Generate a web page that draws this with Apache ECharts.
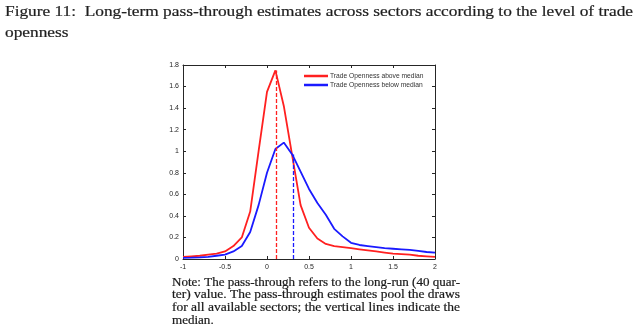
<!DOCTYPE html>
<html><head><meta charset="utf-8">
<script src="https://cdn.jsdelivr.net/npm/echarts@6/dist/echarts.min.js"></script>
<style>html,body{margin:0;padding:0;background:#fff}#c{width:639px;height:332px}</style>
</head><body><div id="c"></div>
<script>
var xValues = [-1.0,-0.9,-0.8,-0.7,-0.6,-0.5,-0.4,-0.3,-0.2,-0.1,0.0,0.1,0.2,0.3,0.4,0.5,0.6,0.7,0.8,0.9,1.0,1.1,1.2,1.3,1.4,1.5,1.6,1.7,1.8,1.9,2.0];
var aboveMedian = [0.02,0.025,0.03,0.04,0.05,0.07,0.12,0.20,0.44,1.00,1.55,1.75,1.42,0.96,0.50,0.29,0.19,0.14,0.12,0.11,0.10,0.09,0.08,0.07,0.06,0.05,0.045,0.04,0.03,0.025,0.02];
var belowMedian = [0.01,0.012,0.015,0.02,0.03,0.04,0.07,0.12,0.25,0.50,0.80,1.02,1.08,0.97,0.81,0.65,0.52,0.41,0.28,0.21,0.15,0.13,0.12,0.11,0.10,0.095,0.09,0.085,0.075,0.065,0.06];
var seriesNames = ['Trade Openness above median','Trade Openness below median'];
var medianX = [0.11, 0.31];
var medianTop = [1.75, 0.97];
var titleLines = ['Figure 11:  Long-term pass-through estimates across sectors according to the level of trade', 'openness'];
var noteLines = ['Note: The pass-through refers to the long-run (40 quar-', 'ter) value. The pass-through estimates pool the draws', 'for all available sectors; the vertical lines indicate the', 'median.'];

function pairs(ys){ return xValues.map(function(x,i){return [x, ys[i]];}); }
var colors = ['#ff2020', '#1a1aff'];
var chart = echarts.init(document.getElementById('c'), null, {renderer:'canvas'});
var serif = 'Liberation Serif';
var ctx = document.createElement('canvas').getContext('2d');
function fitScale(text, font, target){ ctx.font = font; return target / ctx.measureText(text).width; }
var graphics = [];
var titleFont = '14px "' + serif + '"';
titleLines.forEach(function(t,i){
  var sx = i === 0 ? fitScale(t, titleFont, 628) : fitScale(titleLines[0], titleFont, 628);
  graphics.push({type:'text', x:5, y:5 + i*21, scaleX:sx, style:{text:t, font:titleFont, fill:'#1e1e1e', stroke:'#1e1e1e', lineWidth:0.2}});
});
var noteFont = '11.5px "' + serif + '"';
var noteScale0 = fitScale(noteLines[0], noteFont, 288);
noteLines.forEach(function(t,i){
  var sx = i < noteLines.length - 1 ? fitScale(t, noteFont, 288) : noteScale0;
  graphics.push({type:'text', x:172, y:276.5 + i*12.8, scaleX:sx, style:{text:t, font:noteFont, fill:'#1a1a1a', stroke:'#1a1a1a', lineWidth:0.2}});
});
function axisCommon(){
  return {axisLine:{show:true, onZero:false, lineStyle:{color:'#262626', width:1}},
          axisTick:{show:true, inside:true, length:3, lineStyle:{color:'#262626'}},
          splitLine:{show:false}};
}
var xMain = Object.assign(axisCommon(), {type:'value', min:-1, max:2, interval:0.5, position:'bottom',
  axisLabel:{fontSize:7, color:'#262626', margin:5, fontFamily:'Liberation Sans'}});
var xTop = Object.assign(axisCommon(), {type:'value', min:-1, max:2, interval:0.5, position:'top', axisLabel:{show:false}});
var yMain = Object.assign(axisCommon(), {type:'value', min:0, max:1.8, interval:0.2, position:'left',
  axisLabel:{fontSize:7, color:'#262626', margin:4, fontFamily:'Liberation Sans'}});
var yRight = Object.assign(axisCommon(), {type:'value', min:0, max:1.8, interval:0.2, position:'right', axisLabel:{show:false}});

function mline(i){
  return {symbol:'none', silent:true, label:{show:false},
    lineStyle:{type:[4,2], color:colors[i], width:1.3},
    data:[[{coord:[medianX[i],0]},{coord:[medianX[i],medianTop[i]]}]]};
}
chart.setOption({
  animation:false,
  graphic:graphics,
  grid:{left:183, top:65, width:252, height:194, containLabel:false},
  legend:{orient:'vertical', left:304, top:72, padding:0, itemWidth:24, itemHeight:2.5, itemGap:1,
    icon:'rect', textStyle:{fontSize:6.7, lineHeight:8, color:'#333', fontFamily:'Liberation Sans', padding:[0,0,0,-3]},
    data:seriesNames},
  xAxis:[xMain, xTop],
  yAxis:[yMain, yRight],
  series:[
    {name:seriesNames[0], type:'line', data:pairs(aboveMedian), symbol:'none', lineStyle:{color:colors[0], width:1.8}, itemStyle:{color:colors[0]}, markLine:mline(0)},
    {name:seriesNames[1], type:'line', data:pairs(belowMedian), symbol:'none', lineStyle:{color:colors[1], width:1.8}, itemStyle:{color:colors[1]}, markLine:mline(1)}
  ]
});
</script></body></html>
